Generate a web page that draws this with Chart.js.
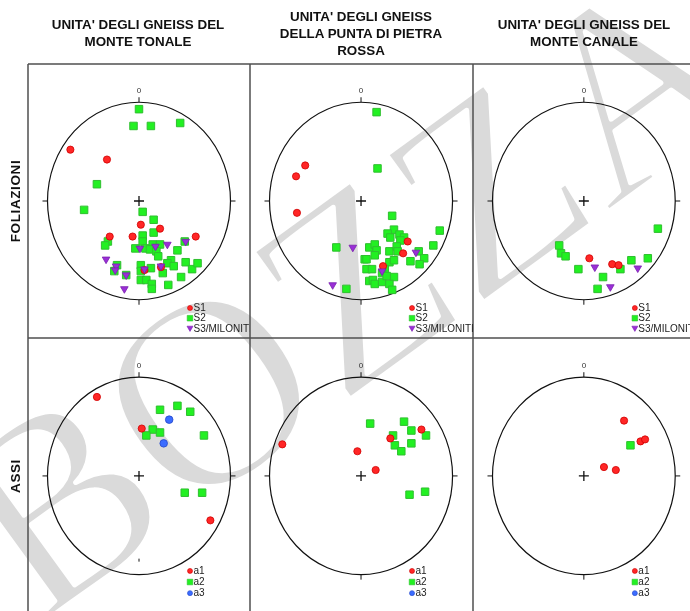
<!DOCTYPE html>
<html>
<head>
<meta charset="utf-8">
<script src="https://cdn.jsdelivr.net/npm/chart.js@4.4.1/dist/chart.umd.min.js"></script>
<style>
    html, body { margin: 0; padding: 0; background: #fff; }
    #page { position: relative; width: 690px; height: 611px; overflow: hidden; font-family: "Liberation Sans", Arial, sans-serif; }
    #bg { position: absolute; left: 0; top: 0; }
    .cell { position: absolute; }
    .title { position: absolute; width: 240px; text-align: center; font-weight: bold; font-size: 13.4px; line-height: 17px; color: #111; }
    .rowlab { position: absolute; font-weight: bold; font-size: 13.5px; letter-spacing: 0.6px; color: #111; white-space: nowrap; transform: translate(-50%, -50%) rotate(-90deg); }
</style>
</head>
<body>
<div id="page">
    <canvas id="bg" width="690" height="611"></canvas>
    <div class="title" style="left:18px; top:16px;">UNITA' DEGLI GNEISS DEL<br>MONTE TONALE</div>
    <div class="title" style="left:241px; top:7.5px;">UNITA' DEGLI GNEISS<br>DELLA PUNTA DI PIETRA<br>ROSSA</div>
    <div class="title" style="left:464px; top:16px;">UNITA' DEGLI GNEISS DEL<br>MONTE CANALE</div>
    <div class="rowlab" style="left:15px; top:201px;">FOLIAZIONI</div>
    <div class="rowlab" style="left:15px; top:476px;">ASSI</div>
</div>

<script>
// ========================================================================
// Data (stereonet coordinates, unit circle = primitive)
// ========================================================================

const foliLabels = ['S1', 'S2', 'S3/MILONITI'];
const assiLabels = ['a1', 'a2', 'a3'];

// Monte Tonale - foliazioni
const tonaleS1 = [[-0.75,0.52],[-0.35,0.42],[0.02,-0.24],[0.23,-0.28],[-0.32,-0.36],[-0.07,-0.36],[0.62,-0.36],[0.06,-0.70],[0.24,-0.67]];
const tonaleS2 = [[0,0.93],[-0.06,0.76],[0.13,0.76],[0.45,0.79],[-0.46,0.17],[-0.60,-0.09],[0.04,-0.11],[0.16,-0.19],
    [0.16,-0.32],[0.04,-0.35],[-0.34,-0.41],[-0.37,-0.45],[0.04,-0.41],[-0.04,-0.48],[0.07,-0.48],[0.15,-0.44],
    [0.23,-0.44],[0.12,-0.49],[0.19,-0.51],[0.21,-0.56],[0.42,-0.50],[0.50,-0.41],[-0.24,-0.65],[-0.27,-0.71],
    [-0.14,-0.75],[0.02,-0.65],[0.02,-0.71],[0.13,-0.68],[0.26,-0.73],[0.35,-0.60],[0.31,-0.63],[0.38,-0.66],
    [0.51,-0.62],[0.58,-0.69],[0.64,-0.63],[0.46,-0.77],[0.02,-0.80],[0.08,-0.80],[0.14,-0.84],[0.14,-0.89],[0.32,-0.85]];
const tonaleS3 = [[0.01,-0.48],[0.18,-0.46],[0.31,-0.44],[0.51,-0.41],[-0.36,-0.59],[-0.25,-0.66],[-0.26,-0.70],
    [-0.14,-0.75],[0.06,-0.69],[0.24,-0.66],[-0.16,-0.89]];

// Punta di Pietra Rossa - foliazioni
const rossaS1 = [[-0.61,0.36],[-0.71,0.25],[-0.70,-0.12],[0.51,-0.41],[0.46,-0.53],[0.24,-0.66]];
const rossaS2 = [[0.17,0.90],[0.18,0.33],[0.34,-0.15],[0.86,-0.30],[0.36,-0.29],[0.29,-0.33],[0.32,-0.37],[0.42,-0.34],
    [0.47,-0.37],[0.43,-0.40],[-0.27,-0.47],[0.09,-0.47],[0.15,-0.44],[0.17,-0.50],[0.15,-0.55],[0.31,-0.51],
    [0.39,-0.46],[0.40,-0.51],[0.79,-0.45],[0.63,-0.51],[0.69,-0.58],[0.64,-0.64],[0.54,-0.61],[0.04,-0.59],
    [0.06,-0.59],[0.31,-0.62],[0.36,-0.60],[0.26,-0.69],[0.06,-0.69],[0.12,-0.69],[0.23,-0.73],[0.36,-0.77],
    [0.09,-0.81],[0.13,-0.80],[0.15,-0.84],[0.23,-0.82],[0.31,-0.84],[0.34,-0.90],[-0.16,-0.89],[0.28,-0.76]];
const rossaS3 = [[-0.09,-0.47],[0.60,-0.52],[0.23,-0.71],[-0.31,-0.85]];

// Monte Canale - foliazioni
const canaleS1 = [[0.06,-0.58],[0.31,-0.64],[0.38,-0.65]];
const canaleS2 = [[0.81,-0.28],[-0.27,-0.45],[-0.25,-0.53],[-0.20,-0.56],[-0.06,-0.69],[0.21,-0.77],[0.15,-0.89],
    [0.40,-0.69],[0.52,-0.60],[0.70,-0.58]];
const canaleS3 = [[0.12,-0.67],[0.29,-0.87],[0.59,-0.68]];

// Assi
const tonaleA1 = [[-0.46,0.80],[0.03,0.48],[0.78,-0.45]];
const tonaleA2 = [[0.23,0.67],[0.42,0.71],[0.56,0.65],[0.71,0.41],[0.15,0.47],[0.08,0.41],[0.23,0.44],[0.50,-0.17],[0.69,-0.17]];
const tonaleA3 = [[0.33,0.57],[0.27,0.33]];

const rossaA1 = [[-0.86,0.32],[-0.04,0.25],[0.16,0.06],[0.32,0.38],[0.66,0.47]];
const rossaA2 = [[0.10,0.53],[0.47,0.55],[0.55,0.46],[0.35,0.41],[0.37,0.31],[0.44,0.25],[0.55,0.33],[0.71,0.41],[0.53,-0.19],[0.70,-0.16]];
const rossaA3 = [];

const canaleA1 = [[0.44,0.56],[0.62,0.35],[0.67,0.37],[0.22,0.09],[0.35,0.06]];
const canaleA2 = [[0.51,0.31]];
const canaleA3 = [];

// ========================================================================
// Layout / styles
// ========================================================================

const RX = 97, RY = 103.5;
const colX = [28, 250, 473, 690];
const rowY = [64, 338, 611];
const centersX = [139, 361, 584];
const centersY = [201, 476];

const markStyles = [
    { pointStyle: 'circle', pointRadius: 3.6, backgroundColor: '#ff2626', borderColor: '#d00000', borderWidth: 0.8, order: 1 },
    { pointStyle: 'rect', pointRadius: 5.3, backgroundColor: '#22f022', borderColor: '#30bf30', borderWidth: 1, order: 2 },
    { pointStyle: 'triangle', rotation: 180, pointRadius: 4.4, backgroundColor: '#9a2fd6', borderColor: '#7a1fb0', borderWidth: 0.8, order: 0 }
];
const blueStyle = { pointStyle: 'circle', pointRadius: 3.8, backgroundColor: '#3b6cff', borderColor: '#2447c8', borderWidth: 0.8, order: 0 };

// ========================================================================
// Background: watermark + frame
// ========================================================================

function drawBackground() {
    const ctx = document.getElementById('bg').getContext('2d');
    const size = 270;

    // "BOZZA" watermark, anchored on the centre of the O; a white outline
    // thins the glyphs a little towards the light strokes of the original
    ctx.save();
    ctx.translate(207, 390);
    ctx.rotate(-36 * Math.PI / 180);
    ctx.font = size + 'px "Liberation Serif", serif';
    const wB = ctx.measureText('B').width, wO = ctx.measureText('O').width;
    const tx = -(wB + wO / 2), ty = 0.34 * size;
    ctx.fillStyle = '#dadada';
    ctx.fillText('BOZZA', tx, ty);
    ctx.strokeStyle = '#fff';
    ctx.lineWidth = 5;
    ctx.lineJoin = 'round';
    ctx.strokeText('BOZZA', tx, ty);
    ctx.restore();

    ctx.strokeStyle = '#505050';
    ctx.lineWidth = 1.5;
    ctx.beginPath();
    rowY.slice(0, 2).forEach(y => { ctx.moveTo(colX[0], y); ctx.lineTo(690, y); });
    colX.slice(0, 3).forEach(x => { ctx.moveTo(x, rowY[0]); ctx.lineTo(x, 611); });
    ctx.stroke();
}

// ========================================================================
// Stereonet frame plugin (primitive circle, ticks, cross, legend)
// ========================================================================

const netPlugin = {
    id: 'net',
    beforeDatasetsDraw(chart, args, opts) {
        const ctx = chart.ctx;
        const x = chart.scales.x, y = chart.scales.y;
        const cx = x.getPixelForValue(0), cy = y.getPixelForValue(0);
        const rx = x.getPixelForValue(1) - cx, ry = cy - y.getPixelForValue(1);

        ctx.save();
        ctx.strokeStyle = '#111';
        ctx.lineWidth = 1.2;
        ctx.beginPath();
        ctx.ellipse(cx, cy, rx, ry, 0, 0, Math.PI * 2);
        ctx.stroke();

        ctx.lineWidth = 1;
        ctx.beginPath();
        ctx.moveTo(cx - rx - 5, cy); ctx.lineTo(cx - rx, cy);
        ctx.moveTo(cx + rx, cy); ctx.lineTo(cx + rx + 5, cy);
        ctx.moveTo(cx, cy - ry - 5); ctx.lineTo(cx, cy - ry);
        if (opts.innerBottomTick) {
            ctx.moveTo(cx, cy + ry - 16); ctx.lineTo(cx, cy + ry - 13);
        } else {
            ctx.moveTo(cx, cy + ry); ctx.lineTo(cx, cy + ry + 5);
        }
        ctx.stroke();

        ctx.lineWidth = 1.3;
        ctx.beginPath();
        ctx.moveTo(cx - 5, cy); ctx.lineTo(cx + 5, cy);
        ctx.moveTo(cx, cy - 5); ctx.lineTo(cx, cy + 5);
        ctx.stroke();

        ctx.fillStyle = '#333';
        ctx.font = '8px "Liberation Sans", Arial, sans-serif';
        ctx.textAlign = 'center';
        ctx.textBaseline = 'middle';
        ctx.fillText('0', cx, cy - ry - 11);
        ctx.restore();
    },
    afterDatasetsDraw(chart, args, opts) {
        const ctx = chart.ctx;
        const cx = chart.scales.x.getPixelForValue(0), cy = chart.scales.y.getPixelForValue(0);
        const lx = cx + 51;

        ctx.save();
        ctx.font = '10px "Liberation Sans", Arial, sans-serif';
        ctx.textBaseline = 'middle';
        chart.data.datasets.forEach((ds, i) => {
            const ly = cy + opts.legendDy + i * opts.legendStep;
            ctx.fillStyle = ds.backgroundColor;
            ctx.strokeStyle = ds.borderColor;
            ctx.lineWidth = 0.6;
            ctx.beginPath();
            if (ds.pointStyle === 'rect') {
                ctx.rect(lx - 2.8, ly - 2.8, 5.6, 5.6);
            } else if (ds.pointStyle === 'triangle') {
                ctx.moveTo(lx - 3, ly - 2.2); ctx.lineTo(lx + 3, ly - 2.2); ctx.lineTo(lx, ly + 3);
                ctx.closePath();
            } else {
                ctx.arc(lx, ly, 2.5, 0, Math.PI * 2);
            }
            ctx.fill();
            ctx.stroke();
            ctx.fillStyle = '#222';
            ctx.fillText(ds.label, lx + 3.5, ly + 0.5);
        });
        ctx.restore();
    }
};

// ========================================================================
// Panels
// ========================================================================

function makeNet(col, row, labels, series, extra) {
    const l = colX[col], r = colX[col + 1], t = rowY[row], b = rowY[row + 1];
    const cx = centersX[col], cy = centersY[row];

    const canvas = document.createElement('canvas');
    canvas.className = 'cell';
    canvas.width = r - l;
    canvas.height = b - t;
    canvas.style.left = l + 'px';
    canvas.style.top = t + 'px';
    document.getElementById('page').appendChild(canvas);

    const datasets = series.map((pts, i) => {
        const style = (row === 1 && i === 2) ? blueStyle : markStyles[i];
        return Object.assign({
            label: labels[i],
            data: pts.map(p => ({ x: p[0], y: p[1] }))
        }, style);
    });

    new Chart(canvas, {
        type: 'scatter',
        data: { datasets: datasets },
        options: {
            responsive: false,
            animation: false,
            events: [],
            layout: { padding: 0 },
            plugins: {
                legend: { display: false },
                tooltip: { enabled: false },
                net: Object.assign({
                    legendDy: row === 0 ? 107 : 95,
                    legendStep: row === 0 ? 10.2 : 11.1
                }, extra || {})
            },
            scales: {
                x: { type: 'linear', display: false, min: -(cx - l) / RX, max: (r - cx) / RX },
                y: { type: 'linear', display: false, min: -(b - cy) / RY, max: (cy - t) / RY }
            }
        },
        plugins: [netPlugin]
    });
}

drawBackground();

makeNet(0, 0, foliLabels, [tonaleS1, tonaleS2, tonaleS3]);
makeNet(1, 0, foliLabels, [rossaS1, rossaS2, rossaS3]);
makeNet(2, 0, foliLabels, [canaleS1, canaleS2, canaleS3]);
makeNet(0, 1, assiLabels, [tonaleA1, tonaleA2, tonaleA3], { innerBottomTick: true });
makeNet(1, 1, assiLabels, [rossaA1, rossaA2, rossaA3]);
makeNet(2, 1, assiLabels, [canaleA1, canaleA2, canaleA3]);
</script>
</body>
</html>
